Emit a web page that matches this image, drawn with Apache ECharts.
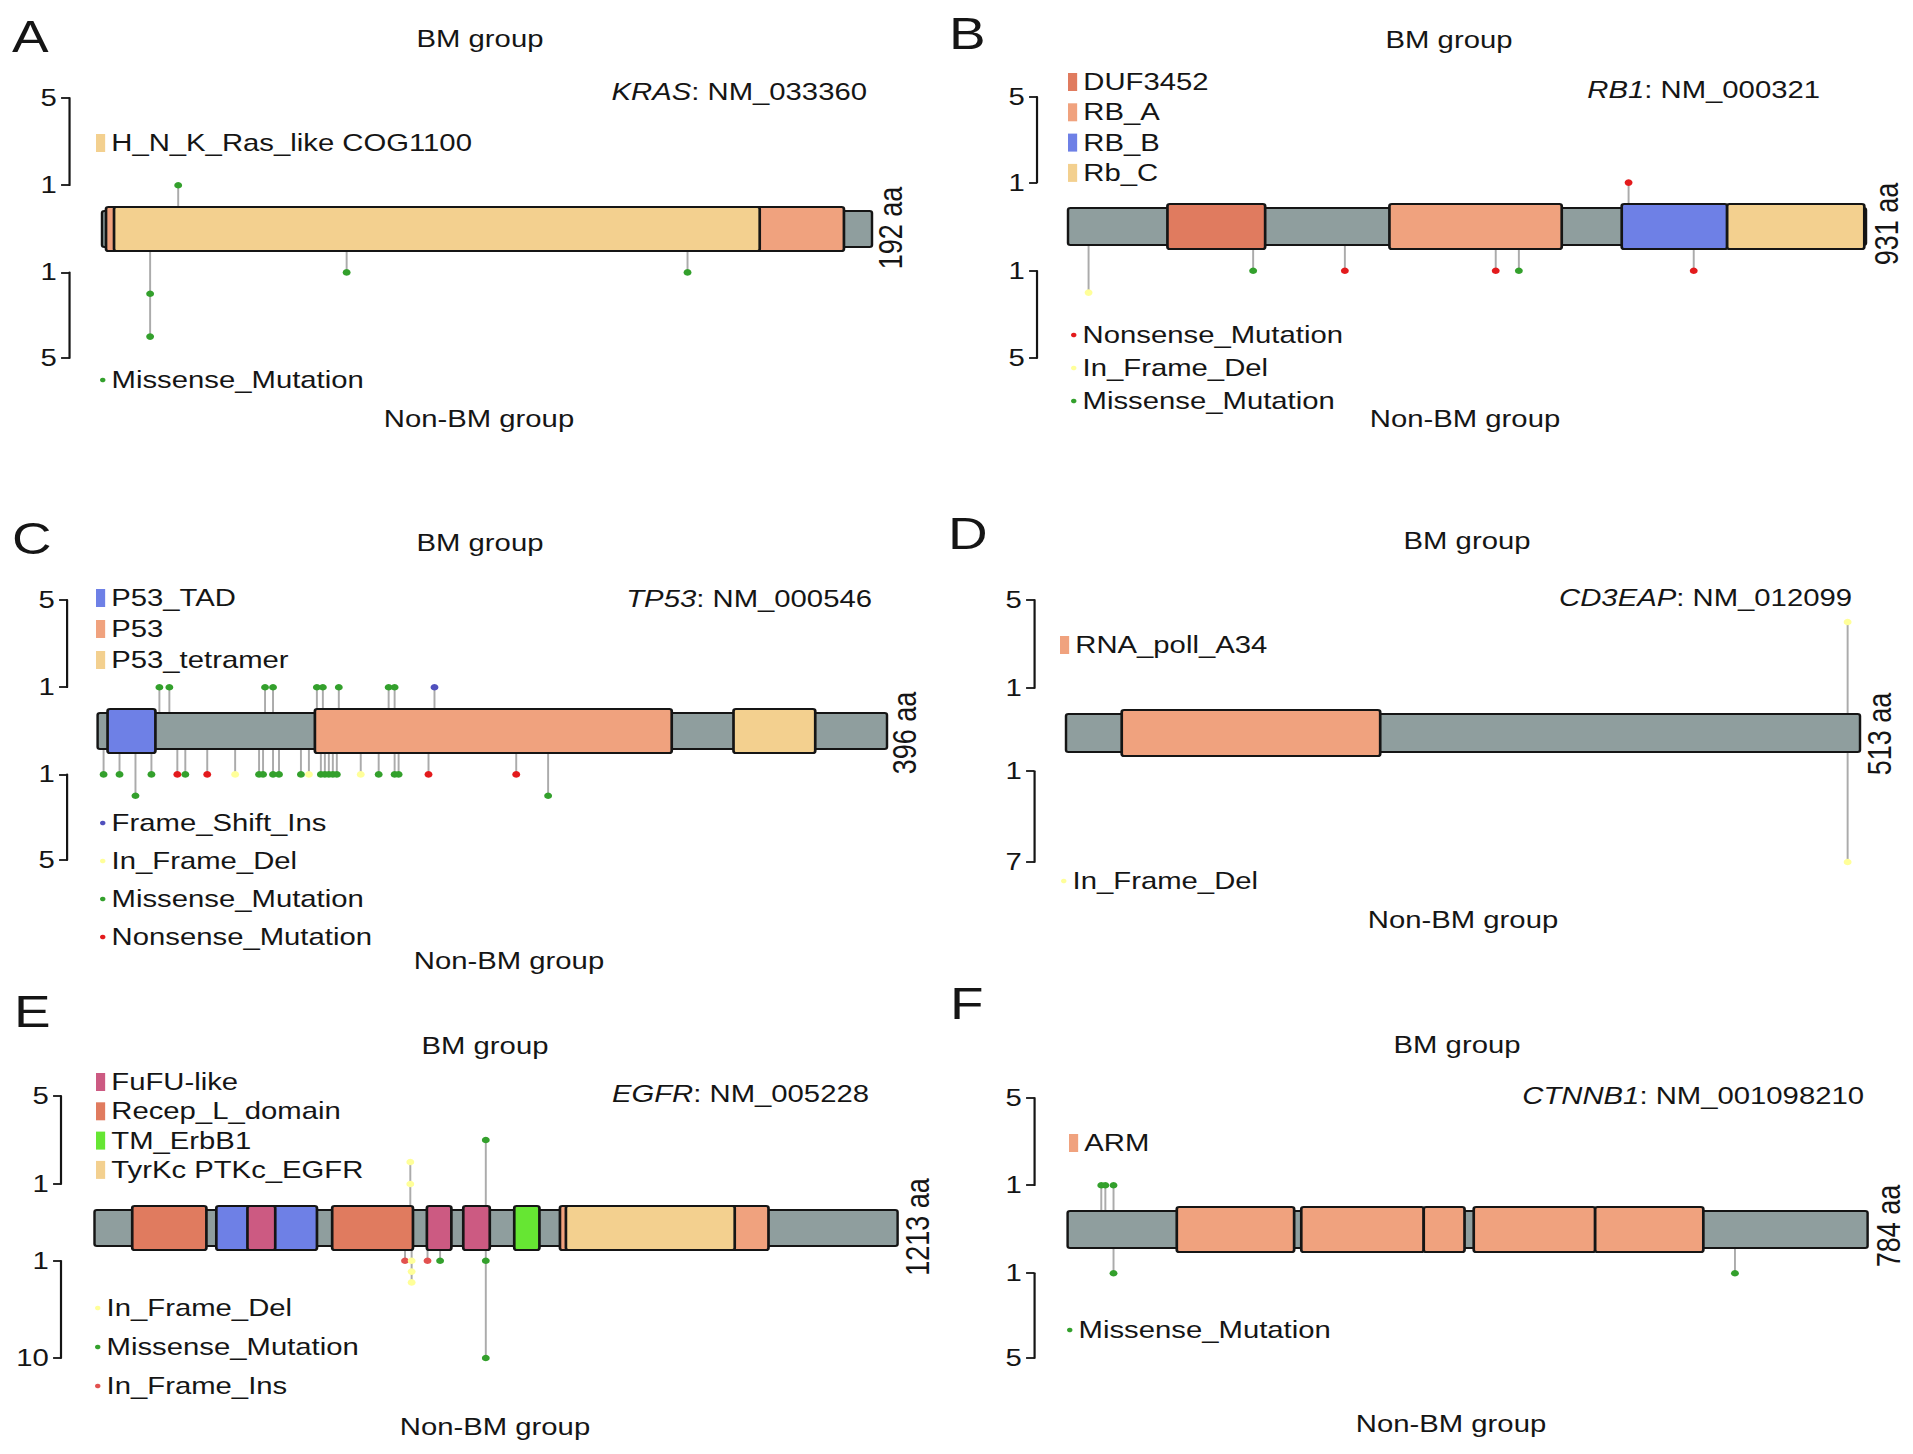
<!DOCTYPE html>
<html>
<head>
<meta charset="utf-8">
<script src="https://cdn.jsdelivr.net/npm/echarts@6/dist/echarts.min.js"></script>
<style>
html, body { margin: 0; padding: 0; background: #ffffff; overflow: hidden; }
#wrap { width: 1913px; height: 1454px; overflow: hidden; position: relative; background: #fff; }
#chart { width: 1568px; height: 1454px; transform: scaleX(1.22003); transform-origin: 0 0; }
</style>
</head>
<body>
<div id="wrap"><div id="chart"></div></div>
<script>
// ---------------- DATA ----------------
const MIS = 'Missense_Mutation', NON = 'Nonsense_Mutation', IFD = 'In_Frame_Del',
      FSI = 'Frame_Shift_Ins', IFI = 'In_Frame_Ins';

const panelLetters = ['A', 'B', 'C', 'D', 'E', 'F'];
const genes = ['KRAS', 'RB1', 'TP53', 'CD3EAP', 'EGFR', 'CTNNB1'];
const transcripts = ['NM_033360', 'NM_000321', 'NM_000546', 'NM_012099', 'NM_005228', 'NM_001098210'];
const proteinLengths = [192, 931, 396, 513, 1213, 784];
const bmAxisMax = [5, 5, 5, 5, 5, 5];
const nonBmAxisMax = [5, 5, 5, 7, 10, 5];
const groupTitles = ['BM group', 'Non-BM group'];

// domains: [name, start aa, end aa]
const krasDomains = [['Ras', 1, 185], ['H_N_K_Ras_like COG1100', 3, 164]];
const rb1Domains = [['DUF3452', 116, 230], ['RB_A', 375, 576], ['RB_B', 646, 769], ['Rb_C', 769, 929]];
const tp53Domains = [['P53_TAD', 5, 29], ['P53', 109, 288], ['P53_tetramer', 319, 360]];
const cd3eapDomains = [['RNA_poll_A34', 36, 203]];
const egfrDomains = [['Recep_L_domain', 57, 169], ['Furin-like', 184, 336], ['FuFU-like', 231, 273],
  ['Recep_L_domain', 359, 481], ['FuFU-like', 502, 539], ['FuFU-like', 557, 597], ['TM_ErbB1', 634, 672],
  ['Pkinase_Tyr', 703, 1018], ['TyrKc PTKc_EGFR', 712, 967]];
const ctnnb1Domains = [['ARM', 107, 222], ['ARM', 229, 349], ['ARM', 349, 389], ['ARM', 398, 517], ['ARM', 517, 623]];

// domain legends
const krasDomainLegend = ['H_N_K_Ras_like COG1100'];
const rb1DomainLegend = ['DUF3452', 'RB_A', 'RB_B', 'Rb_C'];
const tp53DomainLegend = ['P53_TAD', 'P53', 'P53_tetramer'];
const cd3eapDomainLegend = ['RNA_poll_A34'];
const egfrDomainLegend = ['FuFU-like', 'Recep_L_domain', 'TM_ErbB1', 'TyrKc PTKc_EGFR'];
const ctnnb1DomainLegend = ['ARM'];

// mutations: [aa position, count, type]
const krasBM = [[19, 1, MIS]];
const krasNonBM = [[12, 2, MIS], [12, 4, MIS], [61, 1, MIS], [146, 1, MIS]];
const rb1BM = [[654, 1, NON]];
const rb1NonBM = [[24, 2, IFD], [216, 1, MIS], [323, 1, NON], [499, 1, NON], [526, 1, MIS], [730, 1, NON]];
const tp53BM = [[31, 1, MIS], [36, 1, MIS], [84, 1, MIS], [88, 1, MIS], [110, 1, MIS], [113, 1, MIS],
  [121, 1, MIS], [146, 1, MIS], [149, 1, MIS], [169, 1, FSI]];
const tp53NonBM = [[3, 1, MIS], [11, 1, MIS], [19, 2, MIS], [27, 1, MIS], [40, 1, NON], [44, 1, MIS],
  [55, 1, NON], [69, 1, IFD], [81, 1, MIS], [83, 1, MIS], [88, 1, MIS], [91, 1, MIS], [102, 1, MIS],
  [106, 1, IFD], [112, 1, MIS], [114, 1, MIS], [116, 1, MIS], [118, 1, MIS], [120, 1, MIS], [132, 1, IFD],
  [141, 1, MIS], [149, 1, MIS], [151, 1, MIS], [166, 1, NON], [210, 1, NON], [226, 2, MIS]];
const cd3eapBM = [[505, 4, IFD]];
const cd3eapNonBM = [[505, 7, IFD]];
const egfrBM = [[477, 1, IFD], [477, 2, IFD], [591, 3, MIS]];
const egfrNonBM = [[469, 1, IFI], [479, 1, IFD], [479, 2, IFD], [479, 3, IFD], [503, 1, IFI],
  [522, 1, MIS], [591, 1, MIS], [591, 10, MIS]];
const ctnnb1BM = [[33, 1, MIS], [37, 1, MIS], [45, 1, MIS]];
const ctnnb1NonBM = [[45, 1, MIS], [654, 1, MIS]];

// mutation legends
const krasMutLegend = [MIS];
const rb1MutLegend = [NON, IFD, MIS];
const tp53MutLegend = [FSI, IFD, MIS, NON];
const cd3eapMutLegend = [IFD];
const egfrMutLegend = [IFD, MIS, IFI];
const ctnnb1MutLegend = [MIS];

// ---------------- STYLE ----------------
const FONT = "'Liberation Sans', Arial, Helvetica, sans-serif";
const INK = '#151515';
const BACKBONE = '#8f9e9e';
const STEM = '#ababab';
const BB_INSET = 4;
const S = 1913 / 1568;   // horizontal stretch of the figure

const domainColors = {
  'Ras': '#f0a27e', 'H_N_K_Ras_like COG1100': '#f3d08f',
  'DUF3452': '#e07b5f', 'RB_A': '#f0a27e', 'RB_B': '#6e80e6', 'Rb_C': '#f3d08f',
  'P53_TAD': '#6e80e6', 'P53': '#f0a27e', 'P53_tetramer': '#f3d08f',
  'RNA_poll_A34': '#f0a27e',
  'Recep_L_domain': '#e07b5f', 'Furin-like': '#6e80e6', 'FuFU-like': '#cc5a82',
  'TM_ErbB1': '#66e633', 'Pkinase_Tyr': '#f0a27e', 'TyrKc PTKc_EGFR': '#f3d08f',
  'ARM': '#f0a27e'
};
const mutationColors = {
  'Missense_Mutation': '#33a02c', 'Nonsense_Mutation': '#e31a1c', 'In_Frame_Del': '#ffff99',
  'Frame_Shift_Ins': '#5050bd', 'In_Frame_Ins': '#e2514f'
};

// layout (pixel positions in the 1913 x 1454 picture)
const layout = [
  {lx: 12, ly: 37, x0: 102, x1: 872, top: 207, bot: 251, upTop: 98, lowBot: 358, brX: 69, bmX: 480, bmY: 39, nbX: 479, nbY: 419, gX: 867, gY: 92, lenX: 891, lenY: 228, dlX: 96, dlY: 143, dlStep: 30, mlX: 100, mlY: 380, mlStep: 33},
  {lx: 949, ly: 34, x0: 1068, x1: 1866, top: 204, bot: 249, upTop: 97, lowBot: 358, brX: 1037, bmX: 1449, bmY: 40, nbX: 1465, nbY: 419, gX: 1820, gY: 90, lenX: 1887, lenY: 224, dlX: 1068, dlY: 82, dlStep: 30.3, mlX: 1071, mlY: 335, mlStep: 33},
  {lx: 12, ly: 539, x0: 97.6, x1: 887, top: 709, bot: 753, upTop: 600, lowBot: 860, brX: 67, bmX: 480, bmY: 543, nbX: 509, nbY: 961, gX: 872, gY: 599, lenX: 905, lenY: 733, dlX: 96, dlY: 598, dlStep: 31, mlX: 100, mlY: 823, mlStep: 38},
  {lx: 948, ly: 534, x0: 1066, x1: 1860, top: 710, bot: 756, upTop: 600, lowBot: 862, brX: 1034, bmX: 1467, bmY: 541, nbX: 1463, nbY: 920, gX: 1852, gY: 598, lenX: 1880, lenY: 734, dlX: 1060, dlY: 645, dlStep: 30, mlX: 1061, mlY: 881, mlStep: 33},
  {lx: 14, ly: 1012, x0: 94.5, x1: 897.6, top: 1206, bot: 1250, upTop: 1096, lowBot: 1358, brX: 61, bmX: 485, bmY: 1046, nbX: 495, nbY: 1427, gX: 869, gY: 1094, lenX: 918, lenY: 1227, dlX: 96, dlY: 1082, dlStep: 29.3, mlX: 95, mlY: 1308, mlStep: 39},
  {lx: 950, ly: 1004, x0: 1067.6, x1: 1867.6, top: 1207, bot: 1252, upTop: 1098, lowBot: 1358, brX: 1034, bmX: 1457, bmY: 1045, nbX: 1451, nbY: 1424, gX: 1864, gY: 1096, lenX: 1889, lenY: 1226, dlX: 1069, dlY: 1143, dlStep: 30, mlX: 1067, mlY: 1330, mlStep: 33}
];

const panelDomains = [krasDomains, rb1Domains, tp53Domains, cd3eapDomains, egfrDomains, ctnnb1Domains];
const panelDomainLegends = [krasDomainLegend, rb1DomainLegend, tp53DomainLegend, cd3eapDomainLegend, egfrDomainLegend, ctnnb1DomainLegend];
const panelBM = [krasBM, rb1BM, tp53BM, cd3eapBM, egfrBM, ctnnb1BM];
const panelNonBM = [krasNonBM, rb1NonBM, tp53NonBM, cd3eapNonBM, egfrNonBM, ctnnb1NonBM];
const panelMutLegends = [krasMutLegend, rb1MutLegend, tp53MutLegend, cd3eapMutLegend, egfrMutLegend, ctnnb1MutLegend];

// ---------------- BUILD ----------------
const grids = [], xAxes = [], yAxes = [], series = [], legends = [], texts = [];

function addGrid(rect, xa, ya) {
  const idx = grids.length;
  grids.push(rect);
  xAxes.push(Object.assign({type: 'value', gridIndex: idx, show: false}, xa));
  yAxes.push(Object.assign({type: 'value', gridIndex: idx, show: false,
    splitLine: {show: false}}, ya));
  return idx;
}

function bracketAxis(min, max, inverse) {
  return {
    show: true, min: min, max: max, inverse: inverse,
    axisLine: {show: true, onZero: false, lineStyle: {color: INK, width: 1.8}},
    axisTick: {show: true, inside: false, length: 6.5, customValues: [min, max], lineStyle: {color: INK, width: 1.8}},
    axisLabel: {show: true, customValues: [min, max], fontSize: 24, color: INK, margin: 10, fontFamily: FONT},
    splitLine: {show: false}
  };
}

function stemsFrom(points) {
  const m = new Map();
  points.forEach(p => { m.set(p[0], Math.max(m.get(p[0]) || 0, p[1])); });
  return Array.from(m.entries()).map(e => [e[0], e[1]]);
}

function addLollipops(points, gi, dir) {
  series.push({
    type: 'custom', xAxisIndex: gi, yAxisIndex: gi, z: 1, silent: true, clip: false,
    data: stemsFrom(points),
    renderItem: function (params, api) {
      const a = api.coord([api.value(0), 0]);
      const b = api.coord([api.value(0), api.value(1)]);
      return {type: 'line', shape: {x1: a[0], y1: a[1] + dir * BB_INSET, x2: b[0], y2: b[1]},
        style: {stroke: STEM, lineWidth: 1.6}};
    }
  });
  const types = [];
  points.forEach(p => { if (types.indexOf(p[2]) < 0) types.push(p[2]); });
  types.forEach(t => {
    series.push({
      type: 'scatter', name: t, xAxisIndex: gi, yAxisIndex: gi, z: 4, silent: true,
      symbol: 'circle', symbolSize: 6.5,
      itemStyle: {color: mutationColors[t], opacity: 1},
      data: points.filter(p => p[2] === t).map(p => [p[0], p[1]])
    });
  });
}

layout.forEach((box, i) => {
  const L = proteinLengths[i];
  const left = box.x0 / S, width = (box.x1 - box.x0) / S;
  const upMax = bmAxisMax[i], lowMax = nonBmAxisMax[i];

  // protein bar grid
  const gBar = addGrid({left: left, width: width, top: box.top, height: box.bot - box.top},
    {min: 0, max: L}, {min: -1, max: 1});
  // lollipop grids
  const gUp = addGrid({left: left, width: width, top: box.upTop, height: box.top - box.upTop},
    {min: 0, max: L}, {min: 0, max: upMax});
  const gLow = addGrid({left: left, width: width, top: box.bot, height: box.lowBot - box.bot},
    {min: 0, max: L}, {min: 0, max: lowMax, inverse: true});
  // bracket axes
  const upUnit = (box.top - box.upTop) / upMax;
  const lowUnit = (box.lowBot - box.bot) / lowMax;
  addGrid({left: box.brX / S, width: 1, top: box.upTop, height: box.top - upUnit - box.upTop},
    {min: 0, max: 1}, bracketAxis(1, upMax, false));
  addGrid({left: box.brX / S, width: 1, top: box.bot + lowUnit, height: box.lowBot - box.bot - lowUnit},
    {min: 0, max: 1}, bracketAxis(1, lowMax, true));

  // backbone
  series.push({
    type: 'custom', xAxisIndex: gBar, yAxisIndex: gBar, z: 2, silent: true, clip: false,
    data: [[0, L]],
    renderItem: function (params, api) {
      const a = api.coord([api.value(0), 1]);
      const b = api.coord([api.value(1), -1]);
      return {type: 'rect', shape: {x: a[0], y: a[1] + BB_INSET, width: b[0] - a[0], height: b[1] - a[1] - 2 * BB_INSET, r: 2},
        style: {fill: BACKBONE, stroke: INK, lineWidth: 2}};
    }
  });
  // domains, one series per domain name
  const names = [];
  panelDomains[i].forEach(d => { if (names.indexOf(d[0]) < 0) names.push(d[0]); });
  names.forEach(n => {
    series.push({
      type: 'custom', name: n, xAxisIndex: gBar, yAxisIndex: gBar, z: 3, silent: true, clip: false,
      itemStyle: {color: domainColors[n]},
      data: panelDomains[i].filter(d => d[0] === n).map(d => [d[1], d[2]]),
      renderItem: function (params, api) {
        const a = api.coord([api.value(0), 1]);
        const b = api.coord([api.value(1), -1]);
        return {type: 'rect', shape: {x: a[0], y: a[1], width: b[0] - a[0], height: b[1] - a[1], r: 2},
          style: {fill: api.visual('color'), stroke: INK, lineWidth: 2.2}};
      }
    });
  });

  addLollipops(panelBM[i], gUp, 1);
  addLollipops(panelNonBM[i], gLow, -1);

  // legends
  legends.push({
    orient: 'vertical', left: box.dlX / S, top: box.dlY - 12, padding: 0,
    itemWidth: 7.5, itemHeight: 18, itemGap: box.dlStep - 24, icon: 'rect',
    selectedMode: false, data: panelDomainLegends[i],
    textStyle: {fontSize: 24, color: INK, fontFamily: FONT}
  });
  legends.push({
    orient: 'vertical', left: box.mlX / S, top: box.mlY - 12, padding: 0,
    itemWidth: 4.5, itemHeight: 4.5, itemGap: box.mlStep - 24, icon: 'circle',
    selectedMode: false, data: panelMutLegends[i],
    textStyle: {fontSize: 24, color: INK, fontFamily: FONT}
  });

  // texts
  const txt = (x, y, text, size, align, extra) => Object.assign({
    type: 'text', x: x / S, y: y, silent: true,
    style: Object.assign({text: text, fontSize: size, fontFamily: FONT, fill: INK,
      align: align, textAlign: align, verticalAlign: 'middle', textVerticalAlign: 'middle'}, (extra && extra.style) || {})
  }, (extra && extra.el) || {});
  texts.push(txt(box.lx, box.ly, panelLetters[i], 45, 'left'));
  texts.push(txt(box.bmX, box.bmY, groupTitles[0], 24, 'center'));
  texts.push(txt(box.nbX, box.nbY, groupTitles[1], 24, 'center'));
  texts.push(txt(box.gX, box.gY, '{i|' + genes[i] + '}: ' + transcripts[i], 24, 'right',
    {style: {rich: {i: {fontStyle: 'italic', fontSize: 24, fontFamily: FONT, fill: INK}}}}));
  texts.push(txt(box.lenX, box.lenY, L + ' aa', 27, 'center', {el: {rotation: Math.PI / 2}}));
});

const chart = echarts.init(document.getElementById('chart'), null, {renderer: 'svg', width: 1568, height: 1454});
chart.setOption({
  animation: false,
  backgroundColor: '#ffffff',
  textStyle: {fontFamily: FONT},
  grid: grids,
  xAxis: xAxes,
  yAxis: yAxes,
  legend: legends,
  series: series,
  graphic: {elements: texts}
});
</script>
</body>
</html>
